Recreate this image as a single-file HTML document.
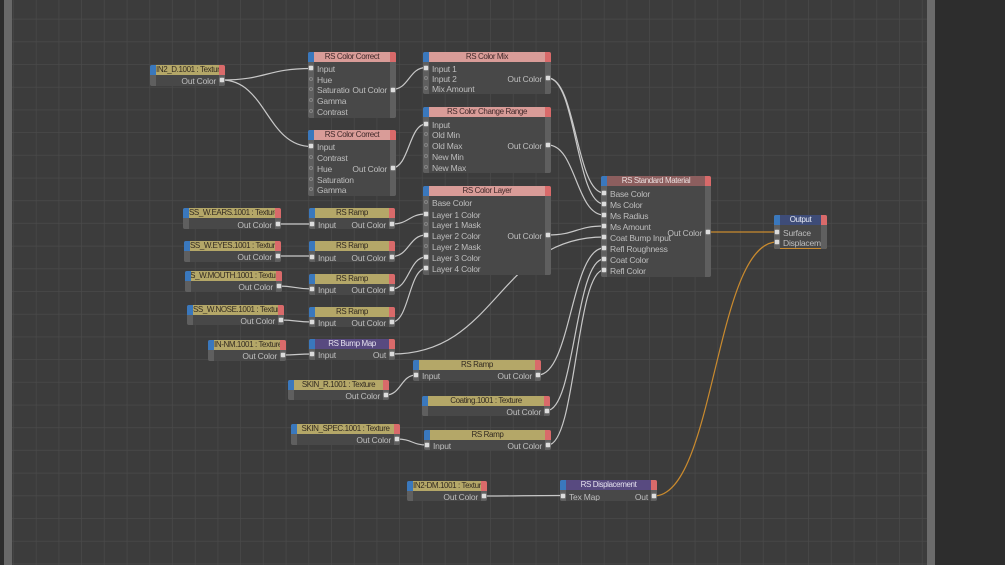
<!DOCTYPE html>
<html>
<head>
<meta charset="utf-8">
<style>
html,body{margin:0;padding:0;width:1005px;height:565px;overflow:hidden;background:#3c3c3c}
#bg,#w{position:absolute;left:0;top:0}
#w{filter:blur(.25px)}
.n{position:absolute;background:#484848;border-radius:2px;font:8.5px/12px "Liberation Sans",sans-serif;letter-spacing:-.2px;color:#bebebe;overflow:hidden;filter:blur(.3px)}
.c{position:absolute;top:0;bottom:0;width:6px;background:#5f5f5f}
.cl{left:0}.cr{right:0}
.b,.r{position:absolute;top:0;width:6px;height:9.500px}
.b{left:0;background:#3a78bd}.r{right:0;background:#d96a6a}
.h{position:absolute;left:6px;right:6px;top:0;height:9.500px;line-height:10px;font-size:8px;letter-spacing:-.4px;display:flex;justify-content:center;white-space:nowrap;overflow:hidden;color:#332b22}
.a{justify-content:flex-start}
.y{background:#b4a768}.k{background:#d99c98;color:#41292a}.m{background:#8c5e5e;color:#eadede}.u{background:#584a80;color:#e4e0ee}.o{background:#3e4c78;color:#e8ebf5}
.t,.e{position:absolute;white-space:nowrap;margin-top:1px}
.t{left:9px}.e{right:9px}
.p,.q{position:absolute;box-sizing:border-box}
.p{width:3.500px;height:3.500px;margin:0 .25px;background:#dcdcdc;box-shadow:0 0 1.500px #fff}
.q{width:4px;height:4px;border:1px solid #858585;border-radius:50%}
.l{left:1px}.g{right:1px}
</style>
</head>
<body>
<svg id="bg" width="1005" height="565" viewBox="0 0 1005 565">
<defs><pattern id="gr" x="13.8" y="-3.2" width="22.72" height="22.7" patternUnits="userSpaceOnUse"><path d="M22.72 0V22.7M0 22.7H22.72" stroke="#4a4a4a" stroke-width="1.4" fill="none"/></pattern></defs>
<rect width="1005" height="565" fill="#3c3c3c"/>
<rect width="1005" height="565" fill="url(#gr)"/>
<rect x="0" y="0" width="4" height="565" fill="#2c2c2c"/>
<rect x="4" y="0" width="8" height="565" fill="#686868"/>
<rect x="927" y="0" width="8" height="565" fill="#6b6b6b"/>
<rect x="935" y="0" width="70" height="565" fill="#2d2d2d"/>
</svg>
<svg id="w" width="1005" height="565" viewBox="0 0 1005 565" fill="none" stroke="#c8c8c8" stroke-width="1.2">
<path d="M222 80C266 80 267 68.5 311 68.5"/>
<path d="M222 80C266 80 267 146.5 311 146.5"/>
<path d="M392 89.5C409 89.5 409 67.5 426 67.5"/>
<path d="M392 168C409 168 409 124 426 124"/>
<path d="M548 78C576 78 576 193 604 193"/>
<path d="M548 78C576 78 576 204 604 204"/>
<path d="M548 145C576 145 576 215 604 215"/>
<path d="M548 235C576 235 576 226 604 226"/>
<path d="M392 354C498 354 498 237 604 237"/>
<path d="M538 375C571 375 571 248 604 248"/>
<path d="M547 410.5C575 410.5 575 259 604 259"/>
<path d="M548 445C576 445 576 270 604 270"/>
<path d="M392 224C409 224 409 214 426 214"/>
<path d="M392 256.5C409 256.5 409 235 426 235"/>
<path d="M392 289C409 289 409 257 426 257"/>
<path d="M392 322C409 322 409 268.5 426 268.5"/>
<path d="M278 224H312"/>
<path d="M278 256H312"/>
<path d="M279 286C295 286 295 289 312 289"/>
<path d="M281 320C296 320 296 322 312 322"/>
<path d="M283 355C297 355 297 354 312 354"/>
<path d="M386 395C401 395 401 375 416 375"/>
<path d="M397 439C412 439 412 445 427 445"/>
<path d="M484 496C523 496 523 495.500 563 495.500"/>
<path d="M708 232C742 232 742 232 777 232" stroke="#c98a2e"/>
<path d="M654 496C715 496 715 242 777 242" stroke="#c98a2e"/>
</svg>

<div class="n" style="left:150px;top:65px;width:75px;height:21px"><div class="c cl"></div><div class="c cr"></div><div class="b"></div><div class="r"></div><div class="h y a">IN2_D.1001 : Texture</div><span class="e" style="top:9px">Out Color</span><i class="p g" style="top:13px"></i></div>

<div class="n" style="left:308px;top:52px;width:88px;height:66px"><div class="c cl"></div><div class="c cr"></div><div class="b"></div><div class="r"></div><div class="h k">RS Color Correct</div>
<span class="t" style="top:10px">Input</span><span class="t" style="top:21px">Hue</span><span class="t" style="top:31px">Saturation</span><span class="t" style="top:42px">Gamma</span><span class="t" style="top:53px">Contrast</span><span class="e" style="top:31px;background:#484848;padding-left:2px">Out Color</span>
<i class="p l" style="top:14px"></i><i class="q l" style="top:25px"></i><i class="q l" style="top:35px"></i><i class="q l" style="top:46px"></i><i class="q l" style="top:57px"></i><i class="p g" style="top:36px"></i></div>

<div class="n" style="left:308px;top:130px;width:88px;height:66px"><div class="c cl"></div><div class="c cr"></div><div class="b"></div><div class="r"></div><div class="h k">RS Color Correct</div>
<span class="t" style="top:10px">Input</span><span class="t" style="top:21px">Contrast</span><span class="t" style="top:32px">Hue</span><span class="t" style="top:43px">Saturation</span><span class="t" style="top:53px">Gamma</span><span class="e" style="top:32px">Out Color</span>
<i class="p l" style="top:14px"></i><i class="q l" style="top:25px"></i><i class="q l" style="top:36px"></i><i class="q l" style="top:47px"></i><i class="q l" style="top:57px"></i><i class="p g" style="top:36px"></i></div>

<div class="n" style="left:423px;top:52px;width:128px;height:42px"><div class="c cl"></div><div class="c cr"></div><div class="b"></div><div class="r"></div><div class="h k">RS Color Mix</div>
<span class="t" style="top:10px">Input 1</span><span class="t" style="top:20px">Input 2</span><span class="t" style="top:30px">Mix Amount</span><span class="e" style="top:20px">Out Color</span>
<i class="p l" style="top:14px"></i><i class="q l" style="top:24px"></i><i class="q l" style="top:34px"></i><i class="p g" style="top:24px"></i></div>

<div class="n" style="left:423px;top:107px;width:128px;height:66px"><div class="c cl"></div><div class="c cr"></div><div class="b"></div><div class="r"></div><div class="h k">RS Color Change Range</div>
<span class="t" style="top:11px">Input</span><span class="t" style="top:21px">Old Min</span><span class="t" style="top:32px">Old Max</span><span class="t" style="top:43px">New Min</span><span class="t" style="top:54px">New Max</span><span class="e" style="top:32px">Out Color</span>
<i class="p l" style="top:15px"></i><i class="q l" style="top:25px"></i><i class="q l" style="top:36px"></i><i class="q l" style="top:47px"></i><i class="q l" style="top:58px"></i><i class="p g" style="top:36px"></i></div>

<div class="n" style="left:423px;top:186px;width:128px;height:89px"><div class="c cl"></div><div class="c cr"></div><div class="b"></div><div class="r"></div><div class="h k">RS Color Layer</div>
<span class="t" style="top:10px">Base Color</span><span class="t" style="top:22px">Layer 1 Color</span><span class="t" style="top:32px">Layer 1 Mask</span><span class="t" style="top:43px">Layer 2 Color</span><span class="t" style="top:54px">Layer 2 Mask</span><span class="t" style="top:65px">Layer 3 Color</span><span class="t" style="top:76px">Layer 4 Color</span><span class="e" style="top:43px">Out Color</span>
<i class="q l" style="top:14px"></i><i class="p l" style="top:26px"></i><i class="q l" style="top:36px"></i><i class="p l" style="top:47px"></i><i class="q l" style="top:58px"></i><i class="p l" style="top:69px"></i><i class="p l" style="top:80px"></i><i class="p g" style="top:47px"></i></div>

<div class="n" style="left:601px;top:176px;width:110px;height:101px"><div class="c cl"></div><div class="c cr"></div><div class="b"></div><div class="r"></div><div class="h m">RS Standard Material</div>
<span class="t" style="top:11px">Base Color</span><span class="t" style="top:22px">Ms Color</span><span class="t" style="top:33px">Ms Radius</span><span class="t" style="top:44px">Ms Amount</span><span class="t" style="top:55px">Coat Bump Input</span><span class="t" style="top:66px">Refl Roughness</span><span class="t" style="top:77px">Coat Color</span><span class="t" style="top:88px">Refl Color</span><span class="e" style="top:50px">Out Color</span>
<i class="p l" style="top:15px"></i><i class="p l" style="top:26px"></i><i class="p l" style="top:37px"></i><i class="p l" style="top:48px"></i><i class="p l" style="top:59px"></i><i class="p l" style="top:70px"></i><i class="p l" style="top:81px"></i><i class="p l" style="top:92px"></i><i class="p g" style="top:54px"></i></div>

<div class="n" style="left:774px;top:215px;width:53px;height:34px;outline:1px solid #c98a2e;outline-offset:-1px"><div class="c cl"></div><div class="c cr"></div><div class="b"></div><div class="r"></div><div class="h o">Output</div>
<span class="t" style="top:11px">Surface</span><span class="t" style="top:21px;width:38px;overflow:hidden">Displacement</span>
<i class="p l" style="top:15px"></i><i class="p l" style="top:25px"></i></div>

<div class="n" style="left:183px;top:208px;width:98px;height:21px"><div class="c cl"></div><div class="c cr"></div><div class="b"></div><div class="r"></div><div class="h y a">SS_W.EARS.1001 : Texture</div><span class="e" style="top:10px">Out Color</span><i class="p g" style="top:14px"></i></div>
<div class="n" style="left:184px;top:241px;width:97px;height:21px"><div class="c cl"></div><div class="c cr"></div><div class="b"></div><div class="r"></div><div class="h y a">SS_W.EYES.1001 : Texture</div><span class="e" style="top:9px">Out Color</span><i class="p g" style="top:13px"></i></div>
<div class="n" style="left:185px;top:271px;width:97px;height:21px"><div class="c cl"></div><div class="c cr"></div><div class="b"></div><div class="r"></div><div class="h y">SS_W.MOUTH.1001 : Texture</div><span class="e" style="top:9px">Out Color</span><i class="p g" style="top:13px"></i></div>
<div class="n" style="left:187px;top:305px;width:97px;height:20px"><div class="c cl"></div><div class="c cr"></div><div class="b"></div><div class="r"></div><div class="h y a">SS_W.NOSE.1001 : Texture</div><span class="e" style="top:9px">Out Color</span><i class="p g" style="top:13px"></i></div>
<div class="n" style="left:208px;top:340px;width:78px;height:21px"><div class="c cl"></div><div class="c cr"></div><div class="b"></div><div class="r"></div><div class="h y a">IN-NM.1001 : Texture</div><span class="e" style="top:9px">Out Color</span><i class="p g" style="top:13px"></i></div>

<div class="n" style="left:309px;top:208px;width:86px;height:21px"><div class="c cl"></div><div class="c cr"></div><div class="b"></div><div class="r"></div><div class="h y">RS Ramp</div><span class="t" style="top:10px">Input</span><span class="e" style="top:10px">Out Color</span><i class="p l" style="top:14px"></i><i class="p g" style="top:14px"></i></div>
<div class="n" style="left:309px;top:241px;width:86px;height:21px"><div class="c cl"></div><div class="c cr"></div><div class="b"></div><div class="r"></div><div class="h y">RS Ramp</div><span class="t" style="top:10px">Input</span><span class="e" style="top:10px">Out Color</span><i class="p l" style="top:14px"></i><i class="p g" style="top:14px"></i></div>
<div class="n" style="left:309px;top:274px;width:86px;height:21px"><div class="c cl"></div><div class="c cr"></div><div class="b"></div><div class="r"></div><div class="h y">RS Ramp</div><span class="t" style="top:9px">Input</span><span class="e" style="top:9px">Out Color</span><i class="p l" style="top:13px"></i><i class="p g" style="top:13px"></i></div>
<div class="n" style="left:309px;top:307px;width:86px;height:20px"><div class="c cl"></div><div class="c cr"></div><div class="b"></div><div class="r"></div><div class="h y">RS Ramp</div><span class="t" style="top:9px">Input</span><span class="e" style="top:9px">Out Color</span><i class="p l" style="top:13px"></i><i class="p g" style="top:13px"></i></div>
<div class="n" style="left:309px;top:339px;width:86px;height:21px"><div class="c cl"></div><div class="c cr"></div><div class="b"></div><div class="r"></div><div class="h u">RS Bump Map</div><span class="t" style="top:9px">Input</span><span class="e" style="top:9px">Out</span><i class="p l" style="top:13px"></i><i class="p g" style="top:13px"></i></div>

<div class="n" style="left:413px;top:360px;width:128px;height:21px"><div class="c cl"></div><div class="c cr"></div><div class="b"></div><div class="r"></div><div class="h y">RS Ramp</div><span class="t" style="top:9px">Input</span><span class="e" style="top:9px">Out Color</span><i class="p l" style="top:13px"></i><i class="p g" style="top:13px"></i></div>
<div class="n" style="left:288px;top:380px;width:101px;height:20px"><div class="c cl"></div><div class="c cr"></div><div class="b"></div><div class="r"></div><div class="h y">SKIN_R.1001 : Texture</div><span class="e" style="top:9px">Out Color</span><i class="p g" style="top:13px"></i></div>
<div class="n" style="left:422px;top:396px;width:128px;height:20px"><div class="c cl"></div><div class="c cr"></div><div class="b"></div><div class="r"></div><div class="h y">Coating.1001 : Texture</div><span class="e" style="top:9px">Out Color</span><i class="p g" style="top:13px"></i></div>
<div class="n" style="left:291px;top:424px;width:109px;height:21px"><div class="c cl"></div><div class="c cr"></div><div class="b"></div><div class="r"></div><div class="h y">SKIN_SPEC.1001 : Texture</div><span class="e" style="top:9px">Out Color</span><i class="p g" style="top:13px"></i></div>
<div class="n" style="left:424px;top:430px;width:127px;height:20px"><div class="c cl"></div><div class="c cr"></div><div class="b"></div><div class="r"></div><div class="h y">RS Ramp</div><span class="t" style="top:9px">Input</span><span class="e" style="top:9px">Out Color</span><i class="p l" style="top:13px"></i><i class="p g" style="top:13px"></i></div>
<div class="n" style="left:407px;top:481px;width:80px;height:20px"><div class="c cl"></div><div class="c cr"></div><div class="b"></div><div class="r"></div><div class="h y a">IN2-DM.1001 : Texture</div><span class="e" style="top:9px">Out Color</span><i class="p g" style="top:13px"></i></div>
<div class="n" style="left:560px;top:480px;width:97px;height:21px"><div class="c cl"></div><div class="c cr"></div><div class="b"></div><div class="r"></div><div class="h u">RS Displacement</div><span class="t" style="top:10px">Tex Map</span><span class="e" style="top:10px">Out</span><i class="p l" style="top:14px"></i><i class="p g" style="top:14px"></i></div>
</body>
</html>
